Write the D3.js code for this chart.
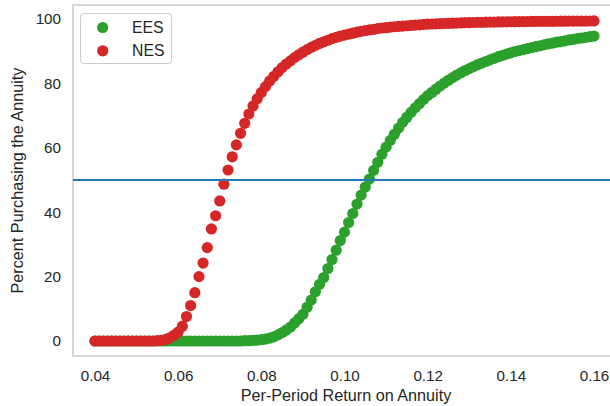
<!DOCTYPE html>
<html><head><meta charset="utf-8">
<script src="https://cdn.jsdelivr.net/npm/d3@7"></script>
<style>
html,body{margin:0;padding:0;background:#fff;}
svg{display:block;font-family:"Liberation Sans",Arial,sans-serif;}
</style></head>
<body>
<svg id="chart" width="610" height="406"></svg>
<script>
// x values: per-period return 0.040 .. 0.160 step 0.001 (121 points)
const returns = d3.range(121).map(i => +(0.04 + i * 0.001).toFixed(3));

const eesValues = [
  0,0,0,0,0,0,0,0,0,0,            // 0.040-0.049
  0,0,0,0,0,0,0,0,0,0,            // 0.050-0.059
  0,0,0,0,0,0,0,0,0,0,            // 0.060-0.069
  0,0,0,0,0,0,0.1,0.1,0.2,0.3,    // 0.070-0.079
  0.4,0.6,0.9,1.3,1.9,2.6,3.4,4.3,5.6,6.9,       // 0.080-0.089
  8.3,10.5,12.7,15.3,17.6,19.7,22.5,25.3,28.2,31.2, // 0.090-0.099
  33.8,36.8,39.6,42.5,45.3,47.8,50.3,53.0,55.5,58.0, // 0.100-0.109
  60.2,62.3,64.2,66.1,67.9,69.5,71.0,72.4,73.7,75.0, // 0.110-0.119
  76.2,77.2,78.2,79.2,80.1,81.0,81.8,82.6,83.3,84.0, // 0.120-0.129
  84.6,85.2,85.8,86.3,86.8,87.3,87.8,88.3,88.7,89.1, // 0.130-0.139
  89.5,89.9,90.2,90.5,90.8,91.1,91.4,91.7,92.0,92.3, // 0.140-0.149
  92.5,92.8,93.0,93.2,93.5,93.7,93.9,94.1,94.3,94.5, // 0.150-0.159
  94.7                                              // 0.160
];

const nesValues = [
  0,0,0,0,0,0,0,0,0,0,            // 0.040-0.049
  0,0,0,0,0,0.1,0.2,0.5,1.0,1.8,  // 0.050-0.059
  2.8,4.6,7.6,11.0,15.0,20.0,24.2,29.0,34.8,38.9,   // 0.060-0.069
  43.5,48.7,53.1,57.2,60.9,64.5,67.6,70.5,73.0,75.2, // 0.070-0.079
  77.2,79.0,80.7,82.2,83.6,84.9,86.0,87.0,88.0,88.9, // 0.080-0.089
  89.7,90.5,91.2,91.8,92.4,92.9,93.4,93.9,94.3,94.7, // 0.090-0.099
  95.0,95.3,95.6,95.9,96.2,96.4,96.6,96.8,97.0,97.2, // 0.100-0.109
  97.3,97.5,97.6,97.7,97.8,97.9,98.0,98.1,98.2,98.3, // 0.110-0.119
  98.4,98.45,98.5,98.55,98.6,98.65,98.7,98.75,98.8,98.85, // 0.120-0.129
  98.9,98.92,98.95,98.98,99.0,99.03,99.06,99.08,99.1,99.12, // 0.130-0.139
  99.15,99.17,99.19,99.2,99.22,99.24,99.25,99.26,99.27,99.28, // 0.140-0.149
  99.29,99.3,99.31,99.32,99.33,99.34,99.35,99.36,99.37,99.38, // 0.150-0.159
  99.4                                              // 0.160
];

const seriesNames = ["EES", "NES"];
const seriesColors = ["#2ca02c", "#d62728"];
const xTicks = [0.04, 0.06, 0.08, 0.10, 0.12, 0.14, 0.16];
const xTickLabels = ["0.04", "0.06", "0.08", "0.10", "0.12", "0.14", "0.16"];
const yTicks = [0, 20, 40, 60, 80, 100];
const threshold = 50;

(function draw() {
const svg = d3.select("#chart");
const textColor = "#262626";
const spineColor = "#cccccc";

// plot frame
const fLeft = 73, fRight = 619, fTop = 5, fBottom = 356;
const x = d3.scaleLinear().domain([0.04, 0.16]).range([95, 594]);
const y = d3.scaleLinear().domain([0, 100]).range([341, 19]);

// spines
svg.append("rect")
  .attr("x", fLeft).attr("y", fTop)
  .attr("width", fRight - fLeft).attr("height", fBottom - fTop)
  .attr("fill", "none").attr("stroke", spineColor).attr("stroke-width", 1.6);

// axes (no tick marks)
const xAxis = d3.axisBottom(x).tickValues(xTicks)
  .tickFormat((d, i) => xTickLabels[i]).tickSize(0).tickPadding(14);
const gx = svg.append("g").attr("transform", `translate(0,${fBottom})`).call(xAxis);
gx.select(".domain").remove();
gx.selectAll("text").attr("fill", textColor)
  .style("font-size", "15.2px").style("font-family", "'Liberation Sans', Arial, sans-serif");

const yAxis = d3.axisLeft(y).tickValues(yTicks).tickSize(0).tickPadding(12);
const gy = svg.append("g").attr("transform", `translate(${fLeft},0)`).call(yAxis);
gy.select(".domain").remove();
gy.selectAll("text").attr("fill", textColor)
  .style("font-size", "15.2px").style("font-family", "'Liberation Sans', Arial, sans-serif");

// axis labels
svg.append("text")
  .attr("x", (fLeft + fRight) / 2).attr("y", 401)
  .attr("text-anchor", "middle").attr("fill", textColor)
  .style("font-size", "16.2px")
  .text("Per-Period Return on Annuity");

svg.append("text")
  .attr("transform", `translate(23,${(fTop + fBottom) / 2}) rotate(-90)`)
  .attr("text-anchor", "middle").attr("fill", textColor)
  .style("font-size", "16.2px")
  .text("Percent Purchasing the Annuity");

// scatter series
const allSeries = [eesValues, nesValues];
allSeries.forEach((vals, si) => {
  svg.append("g").selectAll("circle")
    .data(returns.map((r, i) => ({r, v: vals[i]})))
    .join("circle")
    .attr("cx", d => x(d.r))
    .attr("cy", d => y(d.v))
    .attr("r", 5.6)
    .attr("fill", seriesColors[si]);
});

// horizontal line at 50
svg.append("line")
  .attr("x1", fLeft).attr("x2", fRight)
  .attr("y1", y(threshold)).attr("y2", y(threshold))
  .attr("stroke", "#1f77b4").attr("stroke-width", 2.2);

// legend
const lg = svg.append("g");
lg.append("rect")
  .attr("x", 80.5).attr("y", 13.5).attr("width", 91).attr("height", 50)
  .attr("rx", 3).attr("fill", "#ffffff").attr("fill-opacity", 0.8)
  .attr("stroke", spineColor).attr("stroke-width", 1);
seriesNames.forEach((name, i) => {
  const cy = 27.5 + i * 23.3;
  lg.append("circle").attr("cx", 102.7).attr("cy", cy).attr("r", 5.6)
    .attr("fill", seriesColors[i]);
  lg.append("text").attr("x", 132).attr("y", cy).attr("dy", "0.36em")
    .attr("fill", textColor).style("font-size", "15.8px").text(name);
});
})();
</script>
</body></html>
